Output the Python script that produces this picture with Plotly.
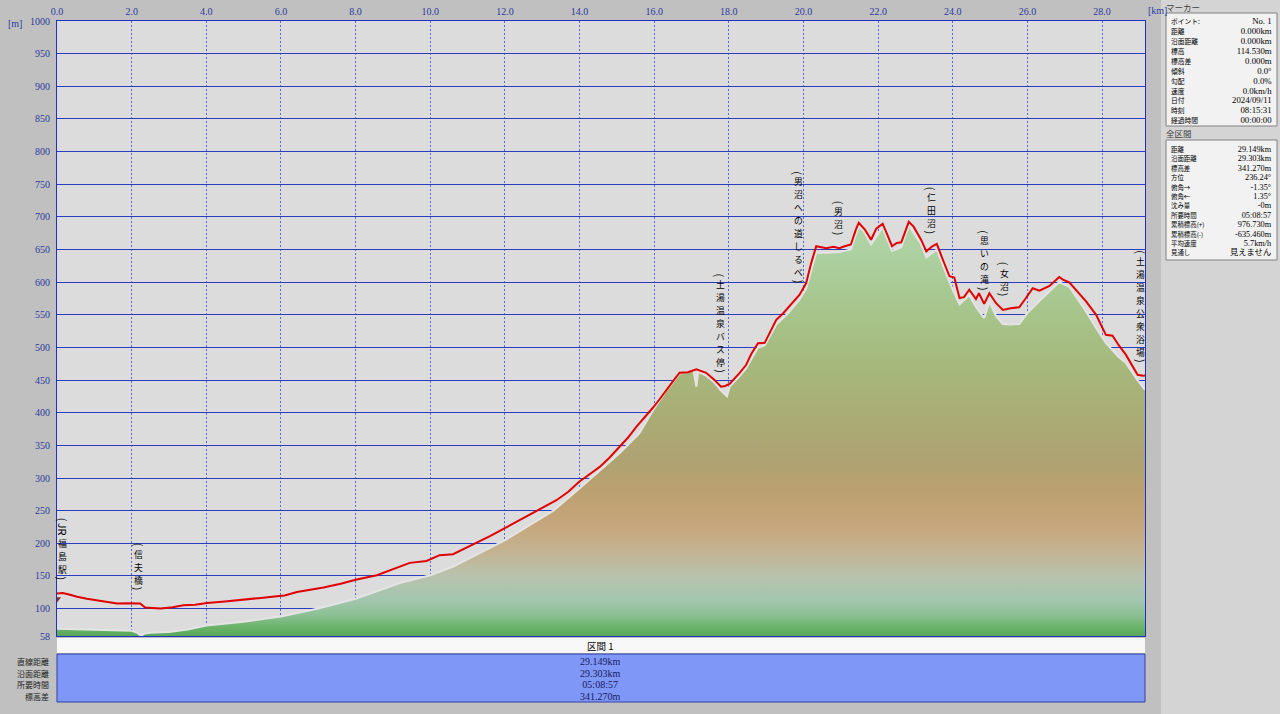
import numpy as np
import plotly.graph_objects as go

# ---------------- data ----------------
route_km = [0.00, 0.15, 0.30, 0.54, 0.80, 1.07, 1.35, 1.61, 1.90, 2.23, 2.36, 2.55, 2.77, 3.10, 3.39,
            3.70, 4.02, 4.50, 4.91, 5.40, 5.89, 6.10, 6.43, 6.80, 7.14, 7.60, 8.03, 8.57, 8.92, 9.18,
            9.45, 9.90, 10.25, 10.61, 10.90, 11.23, 11.60, 11.98, 12.35, 12.75, 13.05, 13.38, 13.70,
            13.98, 14.25, 14.54, 14.80, 15.07, 15.30, 15.52, 15.75, 15.97, 16.15, 16.32, 16.50, 16.68,
            16.90, 17.13, 17.39, 17.60, 17.79, 17.90, 18.02, 18.29, 18.46, 18.60, 18.78, 18.96, 19.10,
            19.27, 19.45, 19.58, 19.75, 19.89, 20.07, 20.20, 20.34, 20.61, 20.80, 20.96, 21.10, 21.27,
            21.40, 21.48, 21.65, 21.81, 21.95, 22.12, 22.25, 22.37, 22.50, 22.62, 22.82, 22.95, 23.15,
            23.29, 23.45, 23.57, 23.75, 23.91, 24.04, 24.18, 24.30, 24.44, 24.62, 24.70, 24.84, 24.98,
            25.16, 25.34, 25.55, 25.78, 25.95, 26.14, 26.32, 26.59, 26.85, 26.95, 27.12, 27.35, 27.57,
            27.84, 28.10, 28.28, 28.45, 28.64, 28.80, 28.95, 29.10, 29.149]
route_m = [123, 124, 122, 118, 115, 112.7, 110, 107.7, 108, 107.7, 101.5, 101, 100, 102, 105,
           106, 108.6, 111, 113.8, 116, 118.9, 120, 125.5, 129, 132.2, 138, 144.5, 151, 158.8, 164,
           170, 173, 181.8, 183.3, 191, 200.6, 211, 222.7, 234, 246.7, 256, 266, 279,
           294, 305, 317, 331, 347.8, 362, 378.4, 393, 408, 421, 434.7, 448, 461.2,
           462, 466.5, 461.2, 451, 439.8, 441, 444, 461, 473, 490, 506.5, 507, 522,
           542.2, 552, 560, 570, 580.3, 598.3, 628, 655, 652, 654, 652, 655, 657.7,
           680, 691, 680, 665, 682, 689.5, 672, 655, 660, 661, 692.3, 685, 665,
           647.2, 655, 658.6, 632, 609, 607, 575.7, 577, 588.5, 574.2, 583, 566.7, 583,
           567.7, 557.5, 560, 561.6, 575, 590.7, 587, 594.3, 608, 604, 599.7, 585, 570.5,
           550, 519.3, 518, 503, 488.6, 473, 458, 456.6, 457]

terrain_km = [0.00, 0.5, 1.0, 1.5, 2.0, 2.15, 2.25, 2.35, 2.5, 3.0, 3.5, 4.0, 5.0, 6.0, 7.0, 8.0,
              8.6, 9.18, 10.0, 10.6, 11.98, 12.5, 13.3, 13.98, 15.07, 15.6, 15.97, 16.3, 16.68,
              16.9, 17.05, 17.13, 17.18, 17.39, 17.6, 17.79, 17.95, 18.02, 18.29, 18.46, 18.78,
              18.96, 19.27, 19.58, 19.89, 20.07, 20.34, 20.61, 20.96, 21.27, 21.48, 21.65, 21.81,
              22.12, 22.37, 22.62, 22.82, 23.15, 23.29, 23.57, 23.91, 24.18, 24.44, 24.62, 24.84,
              24.98, 25.16, 25.34, 25.55, 25.78, 26.0, 26.32, 26.59, 26.85, 27.12, 27.57, 27.84,
              28.1, 28.45, 28.64, 28.95, 29.149]
terrain_m = [69, 68, 67, 66, 66, 63, 58, 62, 63, 64, 68, 74, 80, 88, 100, 115,
             127, 139, 151, 164, 204, 222, 250, 283, 338, 368.5, 404, 432, 460,
             463, 465, 440, 463, 457, 447, 434, 425, 440, 456, 468, 500,
             503, 535, 552, 573, 590, 645, 645, 646, 650, 686, 675, 658,
             684, 648, 654, 687, 658, 638, 650, 600, 566, 580, 562, 545,
             570, 548, 536, 535, 536, 553, 571, 585, 600, 593, 555, 530,
             507, 485, 476, 450, 435]

start_elev = 114.53

label_names = ["(JR福島駅)", "(信夫橋)", "(土湯温泉バス停)", "(男沼への道しるべ)", "(男沼)",
               "(仁田沼)", "(思いの滝)", "(女沼)", "(土湯温泉公衆浴場)"]
label_km = [0.16, 2.18, 17.77, 19.87, 20.95, 23.42, 24.85, 25.38, 29.04]

x_ticks = [0, 2, 4, 6, 8, 10, 12, 14, 16, 18, 20, 22, 24, 26, 28]
y_ticks = [58, 100, 150, 200, 250, 300, 350, 400, 450, 500, 550, 600, 650, 700, 750, 800, 850, 900, 950, 1000]
x_max = 29.149

marker_labels = ["ポイント:", "距離", "沿面距離", "標高", "標高差", "傾斜", "勾配", "速度", "日付", "時刻", "経過時間"]
marker_values = ["No. 1", "0.000km", "0.000km", "114.530m", "0.000m", "0.0°", "0.0%", "0.0km/h",
                 "2024/09/11", "08:15:31", "00:00:00"]
total_labels = ["距離", "沿面距離", "標高差", "方位", "俯角→", "俯角←", "沈み量", "所要時間",
                "累積標高(+)", "累積標高(-)", "平均速度", "見通し"]
total_values = ["29.149km", "29.303km", "341.270m", "236.24°", "-1.35°", "1.35°", "-0m", "05:08:57",
                "976.730m", "-635.460m", "5.7km/h", "見えません"]
section_title = "区間 1"
section_labels = ["直線距離", "沿面距離", "所要時間", "標高差"]
section_values = ["29.149km", "29.303km", "05:08:57", "341.270m"]

# ---------------- styles / layout helpers ----------------
W, H = 1280, 714
PL, PR, PT, PB = 57, 1145, 21, 636
JP = "Noto Sans CJK JP"
NUM = "Liberation Serif, Noto Sans CJK JP"
BLUE_TXT = "#2a3a9e"
LS = 1.3        # plotly line spacing factor
CJK_BOX = 1.45  # CJK font line box / font size


def fx(p):
    return (p - PL) / (PR - PL)


def fy(p):
    return (PB - p) / (PB - PT)


def stacked(lines, glyph_px):
    return "<br>".join(f'<span style="font-size:{glyph_px:.2f}px">{t}</span>' for t in lines)


grad_elev = [58, 72, 90, 115, 150, 190, 230, 280, 330, 400, 470, 550, 640, 700]
grad_cols = ["#58a858", "#6cb46c", "#8cc094", "#a4c6b0", "#b8c2ac", "#c4b290", "#c6a67c", "#bba070",
             "#aea372", "#a9ad76", "#a6b87c", "#a6c48a", "#acd0a0", "#b4d6aa"]
gscale = [[(e - 58) / (700 - 58), c] for e, c in zip(grad_elev, grad_cols)]

fig = go.Figure()
fig.add_trace(go.Scatter(
    x=terrain_km, y=terrain_m, mode="lines", fill="tozeroy",
    fillgradient=dict(type="vertical", colorscale=gscale, start=58, stop=700),
    line=dict(color="#e4e4e4", width=2), hoverinfo="skip", showlegend=False))
fig.add_trace(go.Scatter(
    x=route_km, y=route_m, mode="lines", line=dict(color="#e00000", width=2),
    hoverinfo="skip", showlegend=False))
fig.add_trace(go.Scatter(
    x=[route_km[0]], y=[start_elev], mode="markers",
    marker=dict(symbol="triangle-down", size=7, color="#8b2a1a"), showlegend=False))

annotations = []
shapes = []

# ---- vertical (tategaki) waypoint labels ----
GLYPH = 8.8
CH = GLYPH * CJK_BOX + 0.2   # per-character step
PAREN_H = 5.0


def groups(s):
    out = []
    i = 0
    while i < len(s):
        c = s[i]
        if c in "()":
            out.append(("rot", c, PAREN_H))
            i += 1
        elif c.isascii():
            j = i
            while j < len(s) and s[j].isascii() and s[j] not in "()":
                j += 1
            out.append(("rot", s[i:j], 6.5 * (j - i) + 2))
            i = j
        else:
            j = i
            while j < len(s) and not s[j].isascii():
                j += 1
            out.append(("cjk", s[i:j], CH * (j - i)))
            i = j
    return out


for name, km in zip(label_names, label_km):
    base = float(np.interp(km, route_km, route_m))
    shift = 12.0
    for kind, txt, h in reversed(groups(name)):
        if kind == "rot":
            annotations.append(dict(
                x=km, y=base, xref="x", yref="y", yshift=shift + h / 2, text=txt, textangle=90,
                showarrow=False, xanchor="center", yanchor="middle",
                font=dict(family=JP, size=11, color="#000000")))
        else:
            annotations.append(dict(
                x=km, y=base, xref="x", yref="y", yshift=shift + h / 2, text=stacked(list(txt), GLYPH),
                showarrow=False, xanchor="center", yanchor="middle", align="center",
                font=dict(family=JP, size=CH / LS, color="#000000")))
        shift += h

# axis unit labels
annotations.append(dict(x=fx(6), y=fy(23), xref="paper", yref="paper", text="[m]", showarrow=False,
                        xanchor="left", yanchor="middle", font=dict(family=NUM, size=10, color=BLUE_TXT)))
annotations.append(dict(x=fx(1146), y=fy(10), xref="paper", yref="paper", text="[km]", showarrow=False,
                        xanchor="left", yanchor="middle", font=dict(family=NUM, size=10, color=BLUE_TXT)))

# ---- right panel ----
shapes.append(dict(type="rect", xref="paper", yref="paper", x0=fx(1161), x1=fx(1281), y0=fy(715), y1=fy(-1),
                   fillcolor="#d4d4d4", line=dict(width=0), layer="below"))
for (y0, y1) in [(13, 126), (140, 260)]:
    shapes.append(dict(type="rect", xref="paper", yref="paper", x0=fx(1166), x1=fx(1277), y0=fy(y1), y1=fy(y0),
                       fillcolor="#f2f2f2", line=dict(color="#808080", width=1), layer="below"))
annotations.append(dict(x=fx(1164), y=fy(7), xref="paper", yref="paper", text="マーカー", showarrow=False,
                        xanchor="left", yanchor="middle", font=dict(family=JP, size=8.5, color="#404040")))
annotations.append(dict(x=fx(1164), y=fy(133), xref="paper", yref="paper", text="全区間", showarrow=False,
                        xanchor="left", yanchor="middle", font=dict(family=JP, size=8.5, color="#404040")))

for labs, vals, y_first, step in [(marker_labels, marker_values, 20.5, 9.93),
                                  (total_labels, total_values, 149.0, 9.39)]:
    yc = y_first + step * (len(labs) - 1) / 2
    annotations.append(dict(x=fx(1169), y=fy(yc), xref="paper", yref="paper",
                            text=stacked(labs, (step - 0.1) / CJK_BOX),
                            showarrow=False, xanchor="left", yanchor="middle", align="left",
                            font=dict(family=JP, size=step / LS, color="#000000")))
    annotations.append(dict(x=fx(1274), y=fy(yc), xref="paper", yref="paper",
                            text=stacked(vals, (step - 0.1) / 1.12),
                            showarrow=False, xanchor="right", yanchor="middle", align="right",
                            font=dict(family=NUM, size=step / LS, color="#000000")))

# ---- bottom section panel ----
shapes.append(dict(type="rect", xref="paper", yref="paper", x0=fx(57), x1=fx(1145), y0=fy(653), y1=fy(638),
                   fillcolor="#f8f8f8", line=dict(width=0)))
shapes.append(dict(type="rect", xref="paper", yref="paper", x0=fx(57), x1=fx(1145), y0=fy(702), y1=fy(654),
                   fillcolor="#7f97f7", line=dict(color="#3040a0", width=1)))
annotations.append(dict(x=fx(600), y=fy(646), xref="paper", yref="paper", text=section_title, showarrow=False,
                        xanchor="center", yanchor="middle", font=dict(family=JP, size=9.5, color="#000000")))
sec_step = 11.7
sec_yc = 661 + sec_step * (len(section_labels) - 1) / 2
annotations.append(dict(x=fx(51), y=fy(sec_yc), xref="paper", yref="paper",
                        text=stacked(section_labels, (sec_step - 0.1) / CJK_BOX),
                        showarrow=False, xanchor="right", yanchor="middle", align="right",
                        font=dict(family=JP, size=sec_step / LS, color="#202020")))
annotations.append(dict(x=fx(600), y=fy(sec_yc), xref="paper", yref="paper", text=stacked(section_values, 10),
                        showarrow=False, xanchor="center", yanchor="middle", align="center",
                        font=dict(family=NUM, size=sec_step / LS, color="#1a1a60")))

fig.update_layout(
    width=W, height=H,
    margin=dict(l=PL, r=W - PR, t=PT, b=H - PB, pad=0, autoexpand=False),
    paper_bgcolor="#c0c0c0", plot_bgcolor="#dcdcdc",
    showlegend=False,
    annotations=annotations, shapes=shapes,
    xaxis=dict(range=[0, x_max], side="top", tickvals=x_ticks, ticktext=[f"{v:.1f}" for v in x_ticks],
               showgrid=True, gridcolor="#5868d4", griddash="2px,2px", gridwidth=1,
               showline=True, linecolor="#2030c0", linewidth=1, mirror=True, zeroline=False,
               ticks="", ticklabelstandoff=1, tickfont=dict(family=NUM, size=10, color=BLUE_TXT),
               fixedrange=True, automargin=False),
    yaxis=dict(range=[58, 1000], tickvals=y_ticks, ticktext=[str(v) for v in y_ticks],
               showgrid=True, gridcolor="#2a3cc4", gridwidth=1,
               showline=True, linecolor="#2030c0", linewidth=1, mirror=True, zeroline=False,
               ticks="", ticklabelstandoff=4, tickfont=dict(family=NUM, size=10, color=BLUE_TXT),
               fixedrange=True, automargin=False),
)

fig.write_html("out.html", config={"displayModeBar": False},
               post_script="document.body.style.margin='0';document.body.style.overflow='hidden';")
